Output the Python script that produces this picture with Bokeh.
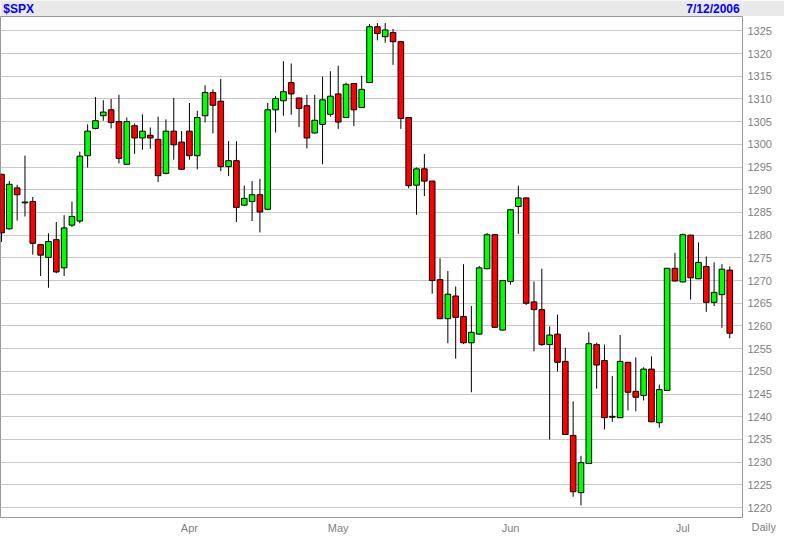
import pandas as pd
from bokeh.plotting import figure
from bokeh.layouts import column
from bokeh.models import ColumnDataSource, FixedTicker, Range1d, LinearAxis
from bokeh.core.properties import value
from bokeh.embed import file_html
from bokeh.resources import INLINE

symbol = "$SPX"
date_text = "7/12/2006"
period_text = "Daily"
holidays = ["2006-04-14", "2006-05-29", "2006-07-04"]
month_labels = ["Apr", "May", "Jun", "Jul"]
price_ticks = list(range(1220, 1330, 5))

opens = [1293.4, 1281.4, 1290.4, 1287.1, 1287.4, 1277.9, 1275.1, 1279.0, 1272.8, 1282.2,
         1283.1, 1297.5, 1303.5, 1306.3, 1307.6, 1305.0, 1295.6, 1304.1, 1301.4, 1302.0,
         1301.1, 1293.6, 1302.9, 1300.5, 1302.9, 1297.5, 1306.3, 1311.4, 1309.5, 1295.1,
         1296.4, 1286.6, 1287.4, 1288.9, 1285.7, 1307.6, 1309.6, 1313.6, 1310.2, 1308.5,
         1302.5, 1304.4, 1306.6, 1311.1, 1305.9, 1313.4, 1308.1, 1313.6, 1325.9, 1323.7,
         1324.6, 1322.6, 1305.9, 1291.0, 1294.6, 1291.9, 1270.2, 1261.6, 1266.6, 1262.1,
         1256.3, 1258.2, 1272.6, 1280.1, 1259.1, 1269.8, 1286.3, 1288.2, 1265.3, 1263.6,
         1255.9, 1258.2, 1252.2, 1235.9, 1223.3, 1229.7, 1255.9, 1252.4, 1239.9, 1239.8,
         1252.0, 1245.6, 1244.7, 1250.5, 1238.7, 1245.8, 1272.7, 1269.7, 1280.0, 1270.4,
         1273.1, 1265.2, 1266.9, 1272.3]
highs = [1293.5, 1291.9, 1291.1, 1297.5, 1288.4, 1278.0, 1280.4, 1282.9, 1284.4, 1287.4,
         1298.4, 1304.4, 1310.4, 1309.7, 1310.0, 1310.9, 1305.9, 1304.6, 1306.6, 1303.7,
         1306.1, 1305.5, 1310.2, 1302.9, 1309.1, 1307.4, 1313.0, 1312.1, 1314.4, 1300.7,
         1300.7, 1290.9, 1291.9, 1292.4, 1309.1, 1310.6, 1318.3, 1317.8, 1310.3, 1310.9,
         1310.9, 1314.9, 1316.1, 1317.3, 1313.6, 1313.5, 1315.1, 1326.5, 1326.7, 1326.7,
         1325.4, 1322.7, 1306.0, 1294.9, 1297.9, 1292.0, 1274.9, 1272.1, 1268.7, 1273.6,
         1264.4, 1273.2, 1280.5, 1280.2, 1270.1, 1285.7, 1290.9, 1288.3, 1269.8, 1272.6,
         1259.9, 1262.5, 1255.2, 1243.4, 1231.4, 1258.6, 1256.3, 1255.9, 1249.0, 1258.0,
         1252.1, 1253.1, 1250.9, 1253.3, 1247.1, 1272.8, 1276.1, 1280.4, 1280.1, 1278.4,
         1275.3, 1274.0, 1273.6, 1273.1]
lows = [1278.5, 1281.2, 1283.2, 1284.1, 1275.7, 1271.0, 1268.4, 1271.6, 1271.0, 1281.8,
        1282.6, 1294.9, 1303.3, 1305.2, 1303.5, 1295.8, 1295.5, 1297.9, 1298.8, 1299.0,
        1291.7, 1293.4, 1296.6, 1294.4, 1296.6, 1294.5, 1304.8, 1302.4, 1294.1, 1293.0,
        1282.9, 1286.4, 1283.1, 1280.6, 1285.5, 1302.6, 1306.3, 1306.5, 1303.8, 1299.1,
        1302.4, 1295.6, 1306.1, 1303.4, 1305.8, 1304.0, 1308.0, 1313.5, 1322.9, 1322.4,
        1317.5, 1303.4, 1290.3, 1284.5, 1288.6, 1267.1, 1261.5, 1256.2, 1252.8, 1256.0,
        1245.4, 1258.1, 1272.5, 1259.6, 1259.0, 1269.1, 1280.3, 1264.6, 1254.4, 1255.6,
        1235.0, 1250.0, 1236.0, 1222.4, 1220.5, 1229.6, 1246.2, 1237.2, 1238.9, 1239.7,
        1241.4, 1241.2, 1243.6, 1238.8, 1237.6, 1245.7, 1269.8, 1269.6, 1265.8, 1270.3,
        1263.1, 1264.4, 1259.6, 1257.3]
closes = [1280.5, 1291.2, 1288.9, 1287.3, 1278.2, 1275.6, 1278.6, 1271.9, 1281.6, 1284.1,
          1297.4, 1302.9, 1305.2, 1307.1, 1304.8, 1296.9, 1305.0, 1301.4, 1302.9, 1301.4,
          1293.1, 1302.9, 1299.9, 1294.5, 1297.5, 1305.9, 1311.4, 1308.6, 1295.1, 1296.4,
          1286.1, 1288.1, 1288.9, 1285.1, 1307.6, 1310.1, 1311.6, 1311.1, 1307.9, 1301.4,
          1305.3, 1309.8, 1310.6, 1304.9, 1313.2, 1307.6, 1312.1, 1325.9, 1324.4, 1325.2,
          1322.6, 1305.7, 1290.9, 1294.6, 1291.9, 1270.0, 1261.6, 1267.0, 1261.9, 1256.3,
          1258.6, 1272.8, 1280.1, 1259.7, 1270.0, 1285.6, 1288.2, 1265.0, 1263.6, 1255.9,
          1258.0, 1252.0, 1236.1, 1223.5, 1229.9, 1256.1, 1251.4, 1239.8, 1240.1, 1252.2,
          1245.4, 1244.3, 1250.5, 1238.9, 1246.0, 1272.7, 1269.9, 1280.1, 1270.6, 1274.0,
          1265.2, 1267.4, 1272.5, 1258.4]

dates = pd.bdate_range("2006-02-28", "2006-07-12", freq="C", holidays=holidays)
xs = list(range(len(dates)))
month_ticks = [i for i in xs if i > 0 and dates[i].month != dates[i - 1].month
               and dates[i].strftime("%b") in month_labels]

UP = "#00ff00"
DOWN = "#ff0000"
src = ColumnDataSource(dict(
    x=xs, high=highs, low=lows,
    top=[max(o, c) for o, c in zip(opens, closes)],
    bottom=[min(o, c) for o, c in zip(opens, closes)],
    color=[UP if c >= o else DOWN for o, c in zip(opens, closes)],
))

W = 784
AXIS_W = 42
HEAD_H = 16
FOOT_H = 16
MAIN_H = 534 - HEAD_H - FOOT_H
FONT = "Liberation Sans"
GRAY_TXT = "#808080"
xr = Range1d(-0.125, 94.625)

# header strip
h = figure(width=W, height=HEAD_H, x_range=Range1d(0, W), y_range=Range1d(0, HEAD_H),
           x_axis_type=None, y_axis_type=None, toolbar_location=None,
           output_backend="svg", min_border=0)
h.background_fill_color = "#e9e9e9"
h.border_fill_color = "#e9e9e9"
h.outline_line_color = None
h.text(x=[3], y=[8], text=[symbol], text_align="left", text_baseline="middle",
       text_font=value(FONT), text_font_style="bold",
       text_font_size="12px", text_color="#0000ff")
h.text(x=[W - 3], y=[8], text=[date_text], text_align="right", text_baseline="middle",
       text_font=value(FONT), text_font_style="bold",
       text_font_size="12px", text_color="#0000ff")

# main chart
p = figure(width=W, height=MAIN_H, x_range=xr,
           y_range=Range1d(1217.6, 1328.15), y_axis_location="right",
           x_axis_type=None, toolbar_location=None, output_backend="svg",
           min_border_left=0, min_border_top=0, min_border_right=AXIS_W, min_border_bottom=0)
p.background_fill_color = "white"
p.border_fill_color = "white"
p.outline_line_color = "#999999"

p.yaxis.ticker = FixedTicker(ticks=price_ticks)
p.yaxis.axis_line_color = None
p.yaxis.major_tick_line_color = None
p.yaxis.minor_tick_line_color = None
p.yaxis.major_tick_out = 0
p.yaxis.major_tick_in = 0
p.yaxis.major_label_text_font = FONT
p.yaxis.major_label_text_font_size = "11px"
p.yaxis.major_label_text_color = GRAY_TXT
p.yaxis.major_label_standoff = 5

p.xgrid.ticker = FixedTicker(ticks=month_ticks)
p.xgrid.grid_line_color = "#c8c8c8"
p.ygrid.grid_line_color = "#c8c8c8"

p.segment(x0="x", y0="low", x1="x", y1="high", source=src, line_color="black", line_width=1)
p.vbar(x="x", width=0.72, top="top", bottom="bottom", source=src,
       fill_color="color", line_color="black", line_width=1)

# footer strip: month labels on the shared x scale, "Daily" in the corner
f = figure(width=W, height=FOOT_H, x_range=xr, y_range=Range1d(0, FOOT_H),
           x_axis_type=None, y_axis_type=None, toolbar_location=None,
           output_backend="svg", min_border_left=0, min_border_top=0,
           min_border_bottom=0, min_border_right=AXIS_W)
f.background_fill_color = "white"
f.border_fill_color = "white"
f.outline_line_color = None
f.text(x=month_ticks, y=[7] * len(month_ticks), text=month_labels, text_align="center",
       text_baseline="middle", text_font=value(FONT), text_font_size="11px",
       text_color=GRAY_TXT)
corner = LinearAxis(ticker=FixedTicker(ticks=[]), axis_label=period_text,
                    axis_label_orientation="horizontal", axis_label_standoff=9,
                    axis_label_text_font=FONT, axis_label_text_font_size="11px",
                    axis_label_text_font_style="normal", axis_label_text_color=GRAY_TXT,
                    axis_line_color=None, major_tick_line_color=None,
                    minor_tick_line_color=None, major_label_text_font_size="0px")
f.add_layout(corner, "right")

layout = column(h, p, f, spacing=0)
open("out.html", "w").write(file_html(layout, INLINE))
